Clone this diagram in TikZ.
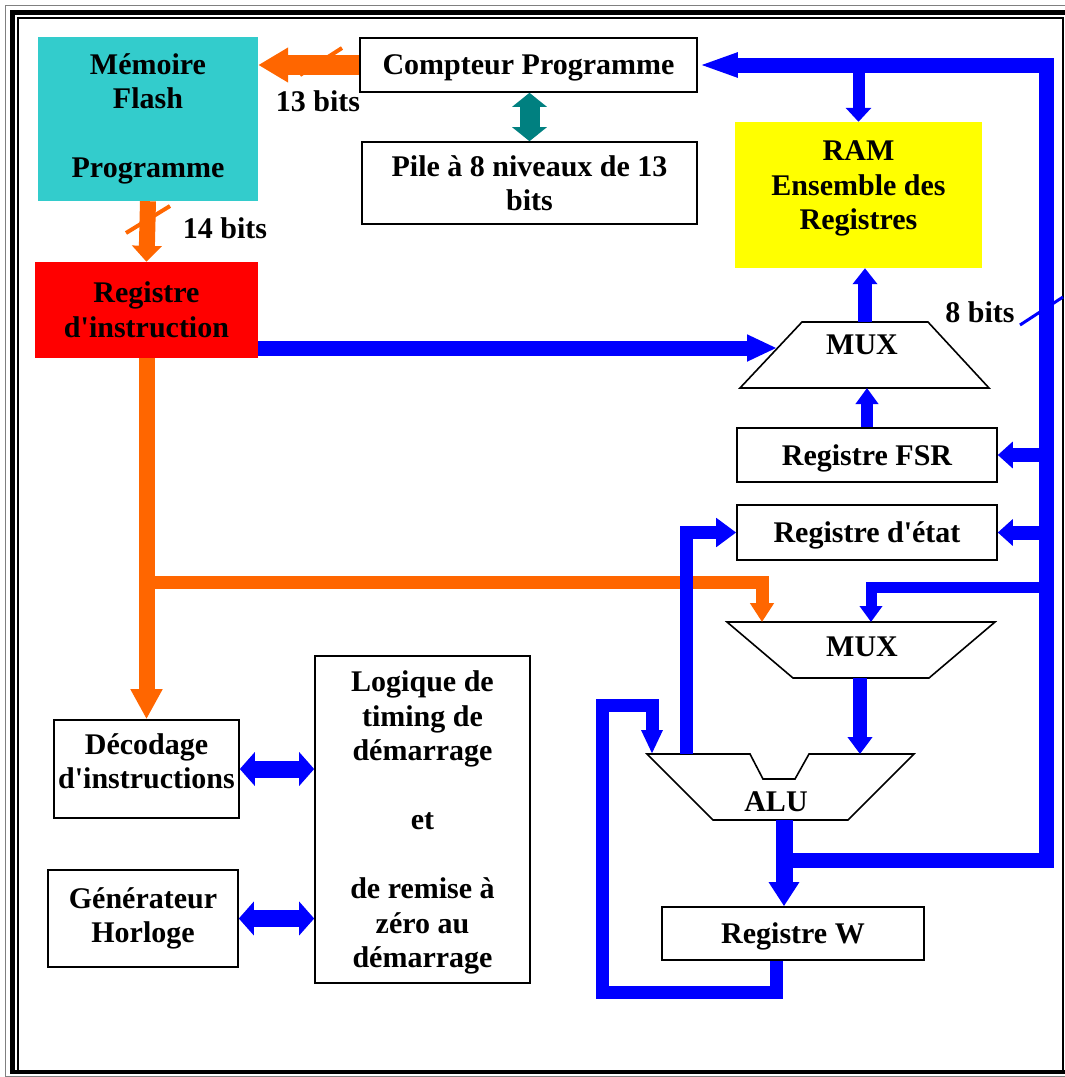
\documentclass[tikz,border=0pt]{standalone}
\usepackage{fontspec}
\setmainfont{Liberation Serif}
\usetikzlibrary{arrows.meta,positioning}

\definecolor{flashcyan}{HTML}{33CCCC}
\definecolor{iregred}{HTML}{FF0000}
\definecolor{ramyellow}{HTML}{FFFF00}
\definecolor{busorange}{HTML}{FF6600}
\definecolor{busblue}{HTML}{0000FF}
\definecolor{stackteal}{HTML}{008080}

\newcommand{\blkfont}{\bfseries\fontsize{30}{34.5}\selectfont}

\begin{document}
\begin{tikzpicture}[
  x=1pt, y=-1pt,
  box/.style={draw, line width=1.6pt, fill=white, align=center, inner sep=0pt, font=\blkfont},
  fillbox/.style={align=center, inner sep=0pt, font=\blkfont},
  lbl/.style={font=\blkfont, inner sep=0pt},
  unit/.style={draw, line width=1.6pt, fill=white},
  obus/.style={draw=busorange, line width=#1pt},
  bbus/.style={draw=busblue, line width=#1pt},
  hd/.style 2 args={->, >={Triangle[length=#1pt,width=#2pt]}},
  dhd/.style 2 args={<->, >={Triangle[length=#1pt,width=#2pt]}}
]
\useasboundingbox (0,0) rectangle (1065,1077);

% frame
\draw[gray, line width=1pt] (5,1076) -- (5,5) -- (1065,5);
\draw[gray, line width=1pt] (5,1076) -- (1065,1076);
\draw[line width=5pt] (12.5,1072) -- (12.5,12.5) -- (1065,12.5);
\draw[line width=4pt] (10,1072) -- (1065,1072);
\draw[line width=1.5pt] (18,1070) -- (18,18) -- (1063,18) -- (1063,1070);

% blocks
\node[fillbox, fill=flashcyan, minimum width=220, minimum height=164] (flash) at (148,119)
  {Mémoire\\Flash\\[34.5pt]Programme};
\node[box, text depth=0pt, minimum width=337, minimum height=54] (compteur) at (528.5,65) {Compteur Programme};
\node[box, minimum width=335, minimum height=82] (pile) at (529.5,183) {Pile à 8 niveaux de 13\\bits};
\node[fillbox, text depth=19pt, fill=ramyellow, minimum width=247, minimum height=146] (ram) at (858.5,195)
  {RAM\\Ensemble des\\Registres};
\node[fillbox, fill=iregred, minimum width=223, minimum height=96] (ireg) at (146.5,310)
  {Registre\\d\textquotesingle instruction};
\node[box, text depth=0pt, minimum width=260, minimum height=54] (fsr) at (867,455) {Registre FSR};
\node[box, text depth=0pt, minimum width=260, minimum height=55] (etat) at (867,532.5) {Registre d\textquotesingle état};
\node[box, text depth=0pt, minimum width=262, minimum height=53] (regw) at (793,933.5) {Registre W};
\node[box, text depth=16pt, minimum width=185, minimum height=98] (decod) at (146.5,769) {Décodage\\d\textquotesingle instructions};
\node[box, minimum width=190, minimum height=97] (gen) at (143,918.5) {Générateur\\Horloge};
\node[box, text depth=0pt, minimum width=215, minimum height=327] (logic) at (422.5,819.5)
  {Logique de\\timing de\\démarrage\\[34.5pt]et\\[34.5pt]de remise à\\zéro au\\démarrage};

% multiplexers and ALU
\draw[unit] (802,322) -- (928,322) -- (989,388) -- (740,388) -- cycle;
\node[lbl] (muxA) at (862,345) {MUX};
\draw[unit] (727,622) -- (995,622) -- (929,678) -- (793,678) -- cycle;
\node[lbl] (muxB) at (862,647) {MUX};
\draw[unit] (647,754) -- (750,754) -- (763,779) -- (795,779) -- (809,754) -- (914,754)
  -- (848,820) -- (713,820) -- cycle;
\node[lbl] (alu) at (776,802) {ALU};

\coordinate (muxAin) at (777,348);
\coordinate (muxAout) at (865,322);
\coordinate (muxAsel) at (865,388);
\coordinate (muxBinL) at (762,622);
\coordinate (muxBinR) at (871,622);
\coordinate (muxBout) at (860,678);
\coordinate (aluinA) at (652,754);
\coordinate (aluinB) at (860,754);
\coordinate (aluflag) at (686,754);
\coordinate (aluout) at (784,820);
\coordinate (obranch) at (146.5,582);
\coordinate (busTR) at (1046,65);
\coordinate (busBR) at (1046,860);
\coordinate (busBL) at (776,860);
\coordinate (busM) at (1046,587);

% orange paths
\draw[obus=20, hd={30}{33}] (compteur.west) -- (compteur.west -| flash.east);
\draw[obus=16, hd={16}{29}] (flash.south) -- (ireg.north);
\draw[obus=16, hd={30}{30}] (ireg.south) -- (decod.north);
\draw[obus=13, hd={19}{23}] (obranch) -| (muxBinL);
\draw[busorange, line width=4pt] (300,75) -- (342,48);
\draw[busorange, line width=4pt] (126,233) -- (170,206);

% teal stack link
\draw[draw=stackteal, line width=20pt, dhd={14}{34}] (pile.north |- compteur.south) -- (pile.north);

% blue paths
\draw[bbus=15, hd={30}{25}] (ireg.east |- muxAin) -- (muxAin);
\draw[bbus=15, hd={40}{22}] (busBL) -- (busBR) -- (busTR) -- (compteur.east);
\draw[bbus=12, hd={14}{25}] (ram.north |- busTR) -- (ram.north);
\draw[bbus=14, hd={16}{24}] (muxAout) -- (muxAout |- ram.south);
\draw[bbus=12, hd={16}{22}] (fsr.north) -- (fsr.north |- muxAsel);
\draw[bbus=14, hd={15}{26}] (fsr.east -| busTR) -- (fsr.east);
\draw[bbus=14, hd={15}{26}] (etat.east -| busTR) -- (etat.east);
\draw[bbus=11, hd={16}{22}] (busM) -| (muxBinR);
\draw[bbus=14, hd={17}{24}] (muxBout) -- (aluinB);
\draw[bbus=17, hd={24}{29}] (aluout) -- (aluout |- regw.north);
\draw[bbus=13, hd={24}{20}] ([xshift=-17pt]regw.south) -- ++(0,32) -| (602,705) -| (aluinA);
\draw[bbus=13, hd={20}{28}] (aluflag) |- (etat.west);
\draw[bbus=17, dhd={15}{33}] (decod.east) -- (decod.east -| logic.west);
\draw[bbus=17, dhd={15}{33}] (gen.east) -- (gen.east -| logic.west);
\draw[busblue, line width=3pt] (1020,325) -- (1063,297);

% bus widths
\node[lbl] (w13) at (318,101) {13 bits};
\node[lbl] (w14) at (225,228) {14 bits};
\node[lbl] (w8) at (980,312) {8 bits};
\end{tikzpicture}
\end{document}
